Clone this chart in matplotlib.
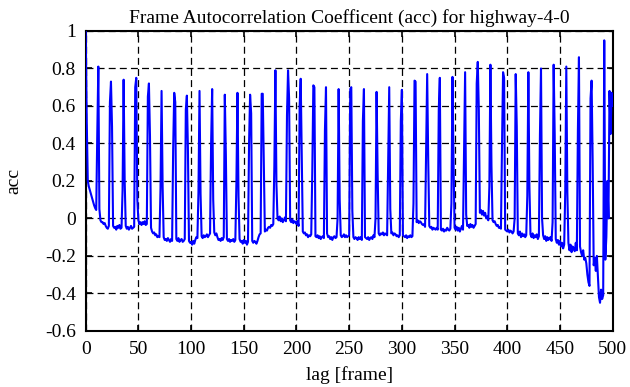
import numpy as np
import matplotlib
matplotlib.use("Agg")
import matplotlib.pyplot as plt

plt.rcParams['font.family'] = ['Liberation Serif', 'DejaVu Serif']
plt.rcParams['lines.scale_dashes'] = False

# acc value for every lag, one row per 12-frame period (lag 12k .. 12k+11)
acc_rows = [
    [1.0, 0.52, 0.2, 0.17, 0.15, 0.13, 0.11, 0.09, 0.07, 0.055, 0.045, 0.45],
    [0.81, 0.05, -0.01, -0.02, -0.02, -0.03, -0.025, -0.04, -0.05, -0.055, -0.04, 0.62],
    [0.73, 0.49, -0.04, -0.05, -0.045, -0.06, -0.04, -0.05, -0.035, -0.055, -0.05, 0.15],
    [0.74, 0.2, -0.04, -0.055, -0.045, -0.06, -0.05, -0.04, -0.055, -0.05, -0.045, 0.7],
    [0.75, 0.1, -0.01, -0.03, -0.02, -0.035, -0.02, -0.03, -0.015, -0.035, -0.03, 0.65],
    [0.72, 0.44, -0.05, -0.07, -0.08, -0.075, -0.09, -0.085, -0.1, -0.095, -0.1, 0.16],
    [0.68, 0.17, -0.1, -0.115, -0.11, -0.12, -0.105, -0.115, -0.125, -0.11, -0.12, 0.37],
    [0.67, 0.62, -0.11, -0.12, -0.105, -0.125, -0.115, -0.11, -0.125, -0.12, -0.11, 0.58],
    [0.655, 0.37, -0.12, -0.13, -0.125, -0.14, -0.12, -0.135, -0.115, -0.1, -0.105, 0.14],
    [0.68, 0.13, -0.095, -0.105, -0.09, -0.1, -0.095, -0.085, -0.1, -0.09, -0.08, 0.40],
    [0.69, 0.1, -0.075, -0.09, -0.08, -0.1, -0.115, -0.11, -0.12, -0.105, -0.115, -0.1],
    [0.66, 0.34, -0.11, -0.12, -0.11, -0.125, -0.115, -0.12, -0.11, -0.125, -0.115, 0.19],
    [0.67, 0.12, -0.11, -0.125, -0.12, -0.135, -0.115, -0.13, -0.12, -0.14, -0.125, 0.40],
    [0.66, 0.56, -0.12, -0.13, -0.12, -0.125, -0.135, -0.12, -0.1, -0.085, -0.08, 0.665],
    [0.665, 0.28, -0.07, -0.06, -0.065, -0.05, -0.045, -0.05, -0.035, -0.04, -0.03, 0.28],
    [0.79, 0.18, 0.0, -0.01, 0.01, -0.015, 0.0, -0.02, -0.01, 0.005, -0.015, 0.55],
    [0.79, 0.64, -0.01, -0.02, -0.005, -0.025, -0.015, -0.02, -0.03, -0.015, -0.04, 0.6],
    [0.745, 0.33, -0.07, -0.08, -0.075, -0.09, -0.085, -0.1, -0.09, -0.095, -0.085, 0.25],
    [0.71, 0.7, -0.095, -0.1, -0.09, -0.105, -0.095, -0.11, -0.1, -0.095, -0.105, 0.47],
    [0.70, -0.08, -0.1, -0.095, -0.11, -0.1, -0.115, -0.1, -0.095, -0.105, -0.1, 0.0],
    [0.69, 0.1, -0.09, -0.1, -0.095, -0.085, -0.1, -0.09, -0.1, -0.095, -0.09, 0.69],
    [0.70, 0.04, -0.1, -0.11, -0.1, -0.105, -0.115, -0.1, -0.11, -0.1, -0.115, 0.52],
    [0.69, -0.1, -0.105, -0.11, -0.1, -0.115, -0.105, -0.1, -0.11, -0.09, -0.1, 0.0],
    [0.675, 0.24, -0.08, -0.09, -0.08, -0.085, -0.075, -0.09, -0.08, -0.085, -0.09, 0.29],
    [0.70, 0.05, -0.08, -0.075, -0.09, -0.08, -0.085, -0.095, -0.09, -0.1, -0.09, 0.52],
    [0.686, -0.09, -0.095, -0.1, -0.09, -0.105, -0.095, -0.1, -0.09, -0.1, -0.095, 0.08],
    [0.735, 0.73, -0.02, -0.01, -0.025, -0.015, -0.02, -0.03, -0.035, -0.03, -0.045, 0.35],
    [0.77, 0.31, -0.04, -0.05, -0.045, -0.06, -0.05, -0.055, -0.06, -0.05, -0.06, 0.58],
    [0.75, -0.06, -0.065, -0.055, -0.07, -0.06, -0.065, -0.05, -0.06, -0.065, -0.055, 0.08],
    [0.755, 0.3, -0.05, -0.06, -0.045, -0.065, -0.05, -0.07, -0.055, -0.04, -0.06, 0.38],
    [0.78, 0.02, -0.04, -0.035, -0.05, -0.03, -0.045, -0.035, -0.05, -0.04, -0.03, 0.72],
    [0.835, 0.58, 0.03, 0.045, 0.02, 0.04, 0.015, 0.03, 0.0, 0.01, -0.01, 0.17],
    [0.82, 0.28, -0.01, -0.02, -0.015, -0.03, -0.04, -0.035, -0.05, -0.045, -0.055, 0.39],
    [0.78, 0.75, -0.06, -0.065, -0.07, -0.06, -0.075, -0.065, -0.07, -0.08, -0.07, 0.0],
    [0.77, 0.49, -0.08, -0.09, -0.07, -0.1, -0.08, -0.095, -0.085, -0.1, -0.09, 0.12],
    [0.78, 0.17, -0.085, -0.1, -0.08, -0.105, -0.09, -0.1, -0.085, -0.11, -0.095, 0.45],
    [0.80, 0.0, -0.09, -0.11, -0.095, -0.12, -0.1, -0.115, -0.105, -0.1, -0.12, -0.02],
    [0.82, 0.45, -0.11, -0.13, -0.115, -0.14, -0.12, -0.15, -0.13, -0.16, -0.14, 0.14],
    [0.81, 0.14, -0.13, -0.17, -0.14, -0.18, -0.15, -0.16, -0.175, -0.13, -0.17, 0.47],
    [0.86, -0.15, -0.18, -0.2, -0.17, -0.22, -0.21, -0.24, -0.3, -0.34, -0.36, 0.64],
    [0.735, 0.31, -0.25, -0.21, -0.28, -0.2, -0.31, -0.42, -0.45, -0.38, -0.43, -0.41],
    [0.95, -0.22, -0.1, 0.2, 0.0, 0.68, 0.45, 0.67, 0.6],
]
acc = np.concatenate([np.array(r) for r in acc_rows])
lag = np.arange(len(acc))

xticks = list(range(0, 501, 50))
yticks = [-0.6, -0.4, -0.2, 0, 0.2, 0.4, 0.6, 0.8, 1]
ylabels = ['-0.6', '-0.4', '-0.2', '0', '0.2', '0.4', '0.6', '0.8', '1']

fig = plt.figure(figsize=(6.3, 3.87), dpi=100)
ax = fig.add_axes([0.136, 0.145, 0.8365, 0.775])

ax.plot(lag, acc, color='#0000ff', lw=1.5, zorder=3)

ax.set_xlim(0, 500)
ax.set_ylim(-0.6, 1)
ax.set_xticks(xticks)
ax.set_yticks(yticks)
ax.set_yticklabels(ylabels)
ax.tick_params(direction='in', length=4.5, width=1.2, top=True, right=True,
               labelsize=14, pad=7)
ax.grid(True, color='black', lw=0.9, linestyle=(0, (5, 3)), zorder=1)
ax.set_axisbelow(True)
for s in ax.spines.values():
    s.set_linewidth(1.5)

ax.set_title('Frame Autocorrelation Coefficent (acc) for highway-4-0', fontsize=14, pad=6)
ax.set_xlabel('lag [frame]', fontsize=14, labelpad=6)
ax.set_ylabel('acc', fontsize=14, labelpad=16)

fig.savefig('out.png', dpi=100)
